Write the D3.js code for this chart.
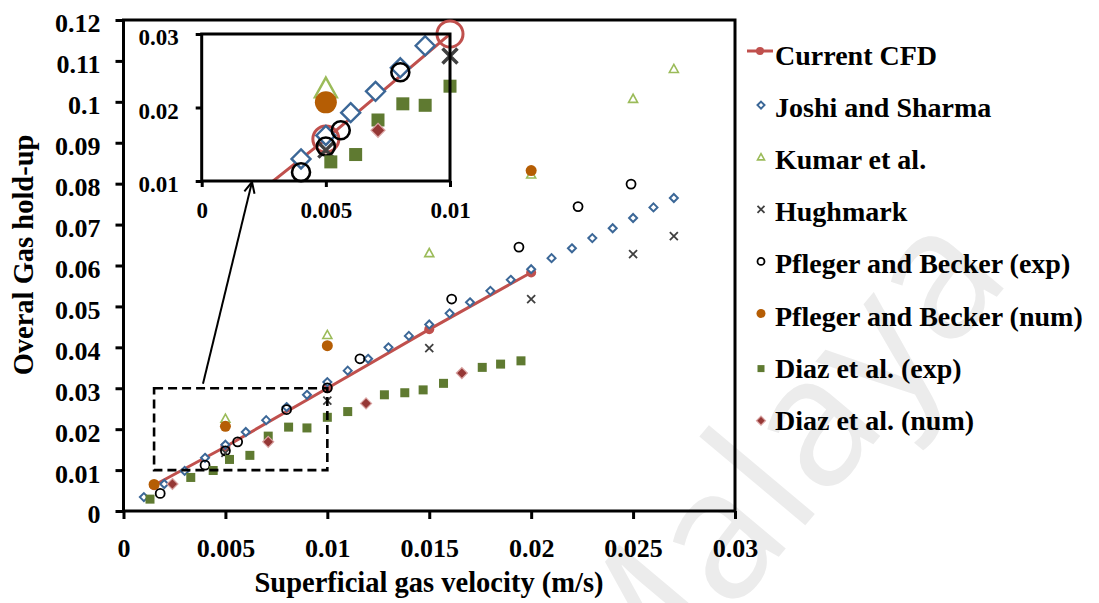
<!DOCTYPE html>
<html>
<head>
<meta charset="utf-8">
<script src="https://cdn.jsdelivr.net/npm/d3@7"></script>
<style>
  body { margin: 0; background: #ffffff; }
  svg { display: block; }
  text { font-family: 'Liberation Serif', 'Times New Roman', serif; font-weight: bold; fill: #000; }
</style>
</head>
<body>
<svg id="chart" width="1099" height="603"></svg>
<script>
// ---- tick values and labels ----
const xTickValues = [0, 0.005, 0.01, 0.015, 0.02, 0.025, 0.03];
const xTickLabels = ["0", "0.005", "0.01", "0.015", "0.02", "0.025", "0.03"];
const yTickValues = [0, 0.01, 0.02, 0.03, 0.04, 0.05, 0.06, 0.07, 0.08, 0.09, 0.1, 0.11, 0.12];
const yTickLabels = ["0", "0.01", "0.02", "0.03", "0.04", "0.05", "0.06", "0.07", "0.08", "0.09", "0.1", "0.11", "0.12"];
const insetXTickValues = [0, 0.005, 0.01];
const insetXTickLabels = ["0", "0.005", "0.01"];
const insetYTickValues = [0.01, 0.02, 0.03];
const insetYTickLabels = ["0.01", "0.02", "0.03"];

// ---- series: superficial gas velocity (m/s) vs overall gas hold-up ----
const cfdVelocity = [0.0015, 0.005, 0.01, 0.015, 0.02];
const cfdHoldup   = [0.0063, 0.0157, 0.0300, 0.0444, 0.0583];

const joshiVelocity = [0.001, 0.002, 0.003, 0.004, 0.005, 0.006, 0.007, 0.008, 0.009, 0.010,
                       0.011, 0.012, 0.013, 0.014, 0.015, 0.016, 0.017, 0.018, 0.019, 0.020,
                       0.021, 0.022, 0.023, 0.024, 0.025, 0.026, 0.027];
const joshiHoldup   = [0.0034, 0.0066, 0.0098, 0.0130, 0.0162, 0.0193, 0.0222, 0.0254, 0.0284, 0.0315,
                       0.0343, 0.0372, 0.0400, 0.0428, 0.0456, 0.0483, 0.0510, 0.0538, 0.0565, 0.0591,
                       0.0618, 0.0642, 0.0667, 0.0691, 0.0716, 0.0742, 0.0765];

const kumarVelocity = [0.005, 0.01, 0.015, 0.02, 0.025, 0.027];
const kumarHoldup   = [0.0225, 0.0430, 0.0630, 0.0822, 0.1007, 0.1080];

const hughmarkVelocity = [0.005, 0.01, 0.015, 0.02, 0.025, 0.027];
const hughmarkHoldup   = [0.0142, 0.0270, 0.0398, 0.0518, 0.0628, 0.0672];

const pflegerExpVelocity = [0.0018, 0.004, 0.005, 0.0056, 0.008, 0.01, 0.0116, 0.0161, 0.0194, 0.0223, 0.0249];
const pflegerExpHoldup   = [0.0043, 0.0112, 0.0147, 0.0169, 0.0248, 0.0301, 0.0372, 0.0518, 0.0645, 0.0744, 0.0799];

const pflegerNumVelocity = [0.0015, 0.005, 0.01, 0.02];
const pflegerNumHoldup   = [0.0065, 0.0207, 0.0404, 0.0832];

const diazExpVelocity = [0.0013, 0.0033, 0.0044, 0.0052, 0.0062, 0.0071, 0.0081, 0.0090, 0.0100,
                         0.0110, 0.0128, 0.0138, 0.0147, 0.0157, 0.0176, 0.0185, 0.0195];
const diazExpHoldup   = [0.0029, 0.0082, 0.0099, 0.0126, 0.0136, 0.0183, 0.0205, 0.0203, 0.0229,
                         0.0243, 0.0284, 0.0289, 0.0296, 0.0312, 0.0351, 0.0359, 0.0367];

const diazNumVelocity = [0.0024, 0.0071, 0.0119, 0.0166];
const diazNumHoldup   = [0.0066, 0.0169, 0.0263, 0.0337];

const seriesNames = ["Current CFD", "Joshi and Sharma", "Kumar et al.", "Hughmark",
                     "Pfleger and Becker (exp)", "Pfleger and Becker (num)", "Diaz et al. (exp)", "Diaz et al. (num)"];

const zip = (xs, ys) => xs.map((v, i) => [v, ys[i]]);

// styling per series (marker type, colour, main size, inset size)
const series = [
  { name: seriesNames[0], pts: zip(cfdVelocity, cfdHoldup), type: "cfd", color: "#c0504d", s: 5, si: 13 },
  { name: seriesNames[1], pts: zip(joshiVelocity, joshiHoldup), type: "diamondOpen", color: "#3b6797", s: 4, si: 9.5 },
  { name: seriesNames[2], pts: zip(kumarVelocity, kumarHoldup), type: "triangleOpen", color: "#9bbb59", s: 4.5, si: 11 },
  { name: seriesNames[3], pts: zip(hughmarkVelocity, hughmarkHoldup), type: "cross", color: "#404040", s: 4, si: 7.5 },
  { name: seriesNames[4], pts: zip(pflegerExpVelocity, pflegerExpHoldup), type: "circleOpen", color: "#000000", s: 4.5, si: 9 },
  { name: seriesNames[5], pts: zip(pflegerNumVelocity, pflegerNumHoldup), type: "circleFilled", color: "#b55d04", s: 5.5, si: 11 },
  { name: seriesNames[6], pts: zip(diazExpVelocity, diazExpHoldup), type: "square", color: "#5f7a31", s: 4.5, si: 6.5 },
  { name: seriesNames[7], pts: zip(diazNumVelocity, diazNumHoldup), type: "diamondFilled", color: "#953735", s: 5.5, si: 7 }
];

const svg = d3.select("#chart");

// faint watermark behind the chart
svg.append("text")
  .attr("transform", "translate(625,740) rotate(-50)")
  .style("font-family", "'Open Sans', 'DejaVu Sans', sans-serif")
  .style("font-weight", "normal")
  .style("font-size", "182px")
  .style("fill", "#ececec")
  .text("Malaya");

// ---- scales ----
const x = d3.scaleLinear().domain([0, 0.03]).range([123.5, 735]);
const y = d3.scaleLinear().domain([0, 0.12]).range([511, 20]);
const ix = d3.scaleLinear().domain([0, 0.01]).range([201.7, 450]);
const iy = d3.scaleLinear().domain([0.01, 0.03]).range([181, 34]);

// ---- marker drawing ----
function marker(g, type, cx, cy, s, color, inset) {
  const sw = inset ? 2.6 : 1.8;
  switch (type) {
    case "cfd":
      if (inset) {
        g.append("circle").attr("cx", cx).attr("cy", cy).attr("r", s)
          .attr("fill", "none").attr("stroke", color).attr("stroke-width", 3);
      } else {
        g.append("circle").attr("cx", cx).attr("cy", cy).attr("r", s).attr("fill", color);
      }
      break;
    case "diamondOpen":
      g.append("path").attr("d", `M${cx},${cy - s}L${cx + s},${cy}L${cx},${cy + s}L${cx - s},${cy}Z`)
        .attr("fill", "#fff").attr("stroke", color).attr("stroke-width", inset ? 2.4 : 2);
      break;
    case "diamondFilled":
      g.append("path").attr("d", `M${cx},${cy - s}L${cx + s},${cy}L${cx},${cy + s}L${cx - s},${cy}Z`)
        .attr("fill", color).attr("stroke", "#d9a3a2").attr("stroke-width", 1.2);
      break;
    case "triangleOpen":
      g.append("path").attr("d", `M${cx},${cy - s * 1.05}L${cx + s},${cy + s * 0.75}L${cx - s},${cy + s * 0.75}Z`)
        .attr("fill", "#fff").attr("stroke", color).attr("stroke-width", inset ? 2.4 : 1.6);
      break;
    case "cross":
      g.append("path").attr("d", `M${cx - s},${cy - s}L${cx + s},${cy + s}M${cx - s},${cy + s}L${cx + s},${cy - s}`)
        .attr("fill", "none").attr("stroke", color).attr("stroke-width", inset ? 3.5 : 1.8);
      break;
    case "circleOpen":
      g.append("circle").attr("cx", cx).attr("cy", cy).attr("r", s)
        .attr("fill", "none").attr("stroke", color).attr("stroke-width", sw);
      break;
    case "circleFilled":
      g.append("circle").attr("cx", cx).attr("cy", cy).attr("r", s).attr("fill", color);
      break;
    case "square":
      g.append("rect").attr("x", cx - s).attr("y", cy - s).attr("width", 2 * s).attr("height", 2 * s)
        .attr("fill", color);
      break;
  }
}

function styleAxis(g) {
  g.selectAll(".domain").remove();
  g.selectAll(".tick line").attr("stroke", "#000").attr("stroke-width", 3);
}

// ---- main plot ----
const main = svg.append("g");
main.append("rect").attr("x", x(0)).attr("y", y(0.12)).attr("width", x(0.03) - x(0)).attr("height", y(0) - y(0.12))
  .attr("fill", "none").attr("stroke", "#000").attr("stroke-width", 3);

const xAxis = main.append("g").attr("transform", `translate(0,${y(0)})`)
  .call(d3.axisBottom(x).tickValues(xTickValues).tickSize(8).tickFormat((d, i) => xTickLabels[i]));
styleAxis(xAxis);
xAxis.selectAll("text").attr("y", 46).attr("dy", 0).style("font-size", "26px").attr("fill", "#000");

const yAxis = main.append("g").attr("transform", `translate(${x(0)},0)`)
  .call(d3.axisLeft(y).tickValues(yTickValues).tickSize(8).tickFormat((d, i) => yTickLabels[i]));
styleAxis(yAxis);
yAxis.selectAll("text").attr("x", -23).attr("dy", "0.46em").style("font-size", "26px").attr("fill", "#000");

// axis titles
svg.append("text").attr("x", 429).attr("y", 592).attr("text-anchor", "middle")
  .style("font-size", "28.5px").text("Superficial gas velocity (m/s)");
svg.append("text").attr("transform", "translate(33,255) rotate(-90)").attr("text-anchor", "middle")
  .style("font-size", "28.5px").text("Overal Gas hold-up");

// CFD line in the main plot
const mainLine = d3.line().x(d => x(d[0])).y(d => y(d[1]));
main.append("path").datum(series[0].pts).attr("d", mainLine)
  .attr("fill", "none").attr("stroke", series[0].color).attr("stroke-width", 3);

series.forEach(sr => {
  const g = main.append("g");
  sr.pts.forEach(p => marker(g, sr.type, x(p[0]), y(p[1]), sr.s, sr.color, false));
});

// dashed zoom box and arrow pointing to the inset
main.append("rect").attr("x", x(0.0015)).attr("y", y(0.03))
  .attr("width", x(0.01) - x(0.0015)).attr("height", y(0.01) - y(0.03))
  .attr("fill", "none").attr("stroke", "#000").attr("stroke-width", 2.6).attr("stroke-dasharray", "9,5");

const tail = [x(0.0039), y(0.0311)];
const tip = [252, iy(0.01) + 1];
main.append("line").attr("x1", tail[0]).attr("y1", tail[1]).attr("x2", tip[0]).attr("y2", tip[1])
  .attr("stroke", "#000").attr("stroke-width", 2);
{
  const ang = Math.atan2(tail[1] - tip[1], tail[0] - tip[0]);
  const L = 12, spread = 0.45;
  const a1 = [tip[0] + L * Math.cos(ang + spread), tip[1] + L * Math.sin(ang + spread)];
  const a2 = [tip[0] + L * Math.cos(ang - spread), tip[1] + L * Math.sin(ang - spread)];
  main.append("path").attr("d", `M${a1[0]},${a1[1]}L${tip[0]},${tip[1]}L${a2[0]},${a2[1]}`)
    .attr("fill", "none").attr("stroke", "#000").attr("stroke-width", 2);
}

// ---- inset (zoom of the low-velocity region) ----
const inset = svg.append("g");
inset.append("rect").attr("x", ix(0)).attr("y", iy(0.03)).attr("width", ix(0.01) - ix(0)).attr("height", iy(0.01) - iy(0.03))
  .attr("fill", "#fff");
svg.append("clipPath").attr("id", "insetClip").append("rect")
  .attr("x", ix(0)).attr("y", iy(0.03)).attr("width", ix(0.01) - ix(0)).attr("height", iy(0.01) - iy(0.03));

const insetLine = d3.line().x(d => ix(d[0])).y(d => iy(d[1]));
inset.append("path").datum(series[0].pts).attr("d", insetLine).attr("clip-path", "url(#insetClip)")
  .attr("fill", "none").attr("stroke", series[0].color).attr("stroke-width", 3);

const inDomain = p => p[0] >= 0 && p[0] <= 0.01001 && p[1] >= 0.01 && p[1] <= 0.03001;
series.forEach(sr => {
  const g = inset.append("g");
  sr.pts.filter(inDomain).forEach(p => marker(g, sr.type, ix(p[0]), iy(p[1]), sr.si, sr.color, true));
});

inset.append("rect").attr("x", ix(0)).attr("y", iy(0.03)).attr("width", ix(0.01) - ix(0)).attr("height", iy(0.01) - iy(0.03))
  .attr("fill", "none").attr("stroke", "#000").attr("stroke-width", 3);

const ixAxis = inset.append("g").attr("transform", `translate(0,${iy(0.01)})`)
  .call(d3.axisBottom(ix).tickValues(insetXTickValues).tickSize(6).tickFormat((d, i) => insetXTickLabels[i]));
styleAxis(ixAxis);
ixAxis.selectAll("text").attr("y", 37).attr("dy", 0).style("font-size", "23px").attr("fill", "#000");

const iyAxis = inset.append("g").attr("transform", `translate(${ix(0)},0)`)
  .call(d3.axisLeft(iy).tickValues(insetYTickValues).tickSize(6).tickFormat((d, i) => insetYTickLabels[i]));
styleAxis(iyAxis);
iyAxis.selectAll("text").attr("x", -23).attr("dy", "0.46em").style("font-size", "23px").attr("fill", "#000");

// ---- legend ----
const legend = svg.append("g");
series.forEach((sr, i) => {
  const base = 65 + i * 52.1;
  const my = base - 12;
  if (sr.type === "cfd") {
    legend.append("line").attr("x1", 747).attr("x2", 773).attr("y1", base - 14).attr("y2", base - 14)
      .attr("stroke", sr.color).attr("stroke-width", 3);
    legend.append("circle").attr("cx", 760).attr("cy", base - 14).attr("r", 4).attr("fill", sr.color);
  } else {
    const sz = sr.type === "square" ? 3.5 : (sr.type === "diamondFilled" ? 4.5 : (sr.type === "circleFilled" ? 4.5 : 3.5));
    const yy = (sr.type === "square" || sr.type === "diamondFilled") ? base - 9 : my;
    marker(legend, sr.type, 761, yy, sz, sr.color, false);
  }
  legend.append("text").attr("x", 775).attr("y", base).style("font-size", "28px").text(sr.name);
});
</script>
</body>
</html>
